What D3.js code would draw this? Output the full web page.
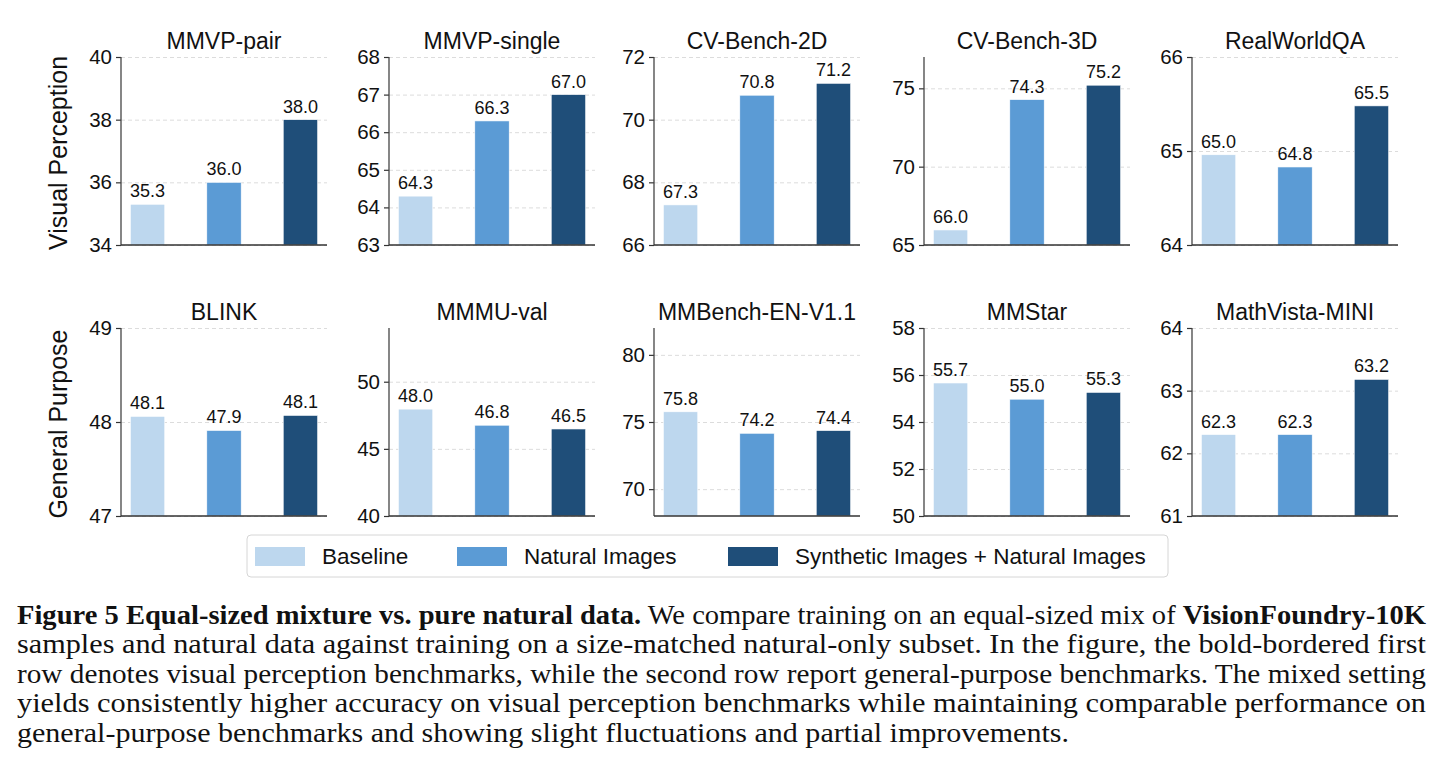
<!DOCTYPE html>
<html>
<head>
<meta charset="utf-8">
<script src="https://cdn.jsdelivr.net/npm/d3@7"></script>
<style>
  body { margin: 0; background: #fff; }
  svg text { font-family: "Liberation Sans", Arial, sans-serif; fill: #111; }
  .caption text { font-family: "Liberation Serif", "Times New Roman", serif; }
</style>
</head>
<body>
<svg id="chart" width="1444" height="780"></svg>
<script>
// data
const benchmarks = ["MMVP-pair", "MMVP-single", "CV-Bench-2D", "CV-Bench-3D", "RealWorldQA",
                    "BLINK", "MMMU-val", "MMBench-EN-V1.1", "MMStar", "MathVista-MINI"];
const settings = ["Baseline", "Natural Images", "Synthetic Images + Natural Images"];
const baseline  = [35.3, 64.3, 67.28, 65.96, 64.96, 48.06, 47.96, 75.76, 55.66, 62.3];
const natural   = [36.0, 66.3, 70.78, 74.28, 64.83, 47.91, 46.76, 74.16, 54.97, 62.3];
const synthetic = [38.0, 67.0, 71.16, 75.2, 65.48, 48.07, 46.48, 74.36, 55.26, 63.18];
const yDomains = [[34, 40], [63, 68], [66, 72], [65, 77], [64, 66],
                  [47, 49], [40, 54], [68, 82], [50, 58], [61, 64]];
const yTicks = [[34, 36, 38, 40], [63, 64, 65, 66, 67, 68], [66, 68, 70, 72], [65, 70, 75], [64, 65, 66],
                [47, 48, 49], [40, 45, 50], [70, 75, 80], [50, 52, 54, 56, 58], [61, 62, 63, 64]];
const rowLabels = ["Visual Perception", "General Purpose"];
const colors = ["#bdd7ee", "#5b9bd5", "#1f4e79"];

// layout
const colX = [121, 389, 654, 924, 1192];
const rowTop = [57, 328];
const W = 206, H = 188;

const svg = d3.select("#chart");
const series = [baseline, natural, synthetic];

benchmarks.forEach((name, i) => {
    const r = Math.floor(i / 5), c = i % 5;
    const g = svg.append("g").attr("transform", "translate(" + colX[c] + "," + rowTop[r] + ")");

    const x = d3.scaleBand()
        .domain(settings)
        .range([0, W])
        .paddingInner(0.55)
        .paddingOuter(0.1225);
    const y = d3.scaleLinear()
        .domain(yDomains[i])
        .range([H, 0]);

    // dashed gridlines
    g.append("g")
     .call(d3.axisLeft(y).tickValues(yTicks[i]).tickSize(-W).tickFormat(""))
     .call(a => a.select(".domain").remove())
     .selectAll("line")
     .attr("stroke", "#dcdcdc")
     .attr("stroke-width", 1)
     .attr("stroke-dasharray", "4,3");

    const rows = settings.map((s, k) => ({ key: s, value: series[k][i], color: colors[k] }));

    g.selectAll(".bar")
     .data(rows)
     .enter().append("rect")
     .attr("x", d => x(d.key))
     .attr("width", x.bandwidth())
     .attr("y", d => y(d.value))
     .attr("height", d => H - y(d.value))
     .attr("fill", d => d.color)
     .attr("stroke", "#ffffff")
     .attr("stroke-width", 0.6);

    g.selectAll(".val")
     .data(rows)
     .enter().append("text")
     .attr("x", d => x(d.key) + x.bandwidth() / 2)
     .attr("y", d => y(d.value) - 7)
     .attr("text-anchor", "middle")
     .style("font-size", "18px")
     .text(d => d3.format(".1f")(d.value));

    // left axis
    const ya = g.append("g")
     .call(d3.axisLeft(y).tickValues(yTicks[i]).tickSize(5).tickPadding(4).tickFormat(d3.format("d")));
    ya.select(".domain").remove();
    ya.selectAll("line").attr("stroke", "#333").attr("stroke-width", 1.2);
    ya.selectAll("text").style("font-size", "20.5px").attr("fill", "#111");

    g.append("line")
     .attr("x1", 0).attr("x2", 0).attr("y1", 0).attr("y2", H)
     .attr("stroke", "#444").attr("stroke-width", 1.3);
    g.append("line")
     .attr("x1", 0).attr("x2", W).attr("y1", H).attr("y2", H)
     .attr("stroke", "#333").attr("stroke-width", 1.5);

    g.append("text")
     .attr("x", W / 2)
     .attr("y", -8)
     .attr("text-anchor", "middle")
     .style("font-size", "23px")
     .text(name);
});

rowLabels.forEach((lab, r) => {
    svg.append("text")
       .attr("transform", "translate(58," + (rowTop[r] + H / 2 + 2) + ") rotate(-90)")
       .attr("text-anchor", "middle")
       .attr("dy", "0.35em")
       .style("font-size", "25px")
       .text(lab);
});

// legend
const legend = svg.append("g").attr("transform", "translate(247,535)");
legend.append("rect")
      .attr("width", 921).attr("height", 42)
      .attr("rx", 4)
      .attr("fill", "#fff")
      .attr("stroke", "#d6d6d6")
      .attr("stroke-width", 1);
const legX = [8, 210, 481];
settings.forEach((s, k) => {
    const it = legend.append("g").attr("transform", "translate(" + legX[k] + ",0)");
    it.append("rect")
      .attr("y", 12).attr("width", 50).attr("height", 19)
      .attr("fill", colors[k]);
    it.append("text")
      .attr("x", 67).attr("y", 29)
      .style("font-size", "22.5px")
      .text(s);
});

// caption
const captionLines = [
    [["Figure 5 Equal-sized mixture vs. pure natural data.", true], [" We compare training on an equal-sized mix of ", false], ["VisionFoundry-10K", true]],
    [["samples and natural data against training on a size-matched natural-only subset. In the figure, the bold-bordered first", false]],
    [["row denotes visual perception benchmarks, while the second row report general-purpose benchmarks. The mixed setting", false]],
    [["yields consistently higher accuracy on visual perception benchmarks while maintaining comparable performance on", false]],
    [["general-purpose benchmarks and showing slight fluctuations and partial improvements.", false]]
];
const lineLen = [1409, 1409, 1409, 1409, 1052];
const cap = svg.append("g").attr("class", "caption");
captionLines.forEach((parts, j) => {
    const t = cap.append("text")
       .attr("x", 17)
       .attr("y", 624 + j * 29.4)
       .attr("textLength", lineLen[j])
       .attr("lengthAdjust", "spacingAndGlyphs")
       .style("font-size", "26.5px");
    parts.forEach(p => {
        t.append("tspan")
         .style("font-weight", p[1] ? "bold" : "normal")
         .text(p[0]);
    });
});
</script>
</body>
</html>
